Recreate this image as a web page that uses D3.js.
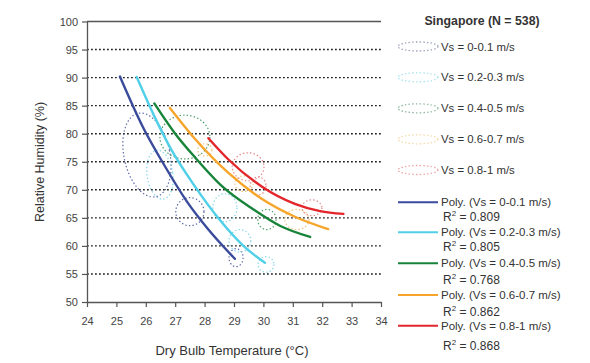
<!DOCTYPE html>
<html><head><meta charset="utf-8">
<script src="https://cdn.jsdelivr.net/npm/d3@7"></script>
<style>body{margin:0;background:#fff}svg{display:block;font-family:"Liberation Sans",Arial,sans-serif}</style>
</head><body><svg id="c" width="590" height="363"></svg>
<script>
// ---- data ----
const xTicks = [24,25,26,27,28,29,30,31,32,33,34];
const yTicks = [50,55,60,65,70,75,80,85,90,95,100];
const gridValues = [55,60,65,70,75,80,85,90,95];
const seriesNames = ["Vs = 0-0.1 m/s","Vs = 0.2-0.3 m/s","Vs = 0.4-0.5 m/s","Vs = 0.6-0.7 m/s","Vs = 0.8-1 m/s"];
const polyNames = ["Poly. (Vs = 0-0.1 m/s)","Poly. (Vs = 0.2-0.3 m/s)","Poly. (Vs = 0.4-0.5 m/s)","Poly. (Vs = 0.6-0.7 m/s)","Poly. (Vs = 0.8-1 m/s)"];
const r2Values = ["0.809","0.805","0.768","0.862","0.868"];
const lineColors = ["#3a4b9c","#4fd0e8","#17843a","#f7a52a","#e2262b"];
const ellipseColors = ["#5e6aa8","#86d6ea","#4a9a66","#f0c27a","#e78585"];
const legendEllipseColors = ["#9aa0b8","#a8e2ee","#8fb8a0","#f5d9a8","#eea3a3"];

// fitted curves (temperature, RH)
const blueT = [25.12,25.9,26.65,27.4,28.1,29.03];
const blueRH = [90.2,81.2,74.2,67.9,63.1,57.7];
const cyanT = [25.69,26.3,26.82,27.67,28.52,29.3,30.05];
const cyanRH = [90.1,83.0,77.6,70.6,64.6,60.1,57.0];
const greenT = [26.29,27.0,27.67,28.6,29.66,30.56,31.59];
const greenRH = [85.4,80.0,75.8,70.6,66.5,63.6,61.6];
const orangeT = [26.82,27.67,28.81,29.94,31.07,32.2];
const orangeRH = [84.6,79.1,73.0,68.4,65.2,63.0];
const redT = [28.13,28.81,29.94,31.07,31.93,32.72];
const redRH = [79.2,75.4,70.6,67.5,66.2,65.7];

// dotted data clouds: [series index, centre T, centre RH, half-width T, half-height RH, rotation deg]
const clouds = [
  [0,26.04,76.2,0.78,7.6,-12],
  [0,27.5,66.1,0.48,2.5,0],
  [0,29.07,57.9,0.24,1.6,0],
  [1,26.48,72.7,0.44,4.4,-8],
  [1,28.69,66.8,0.41,2.5,0],
  [1,29.2,60.9,0.37,2.0,0],
  [1,30.09,56.7,0.27,1.4,0],
  [2,27.33,79.4,0.85,3.9,0],
  [2,30.12,64.7,0.31,1.8,0],
  [3,31.14,64.7,0.41,1.8,0],
  [3,29.34,71.1,0.31,1.4,0],
  [3,28.01,77.1,0.24,1.1,0],
  [4,29.48,74.1,0.54,2.5,0],
  [4,31.65,66.8,0.34,1.4,0],
  [4,29.82,70.7,0.27,1.6,0]
];

const svg = d3.select("#c");
const x = d3.scaleLinear().domain([24,34]).range([87,381]);
const y = d3.scaleLinear().domain([50,100]).range([302,21.5]);
const ink = "#333";

// gridlines
svg.append("g").selectAll("line").data(gridValues).join("line")
  .attr("x1",x(24)).attr("x2",x(34)).attr("y1",d=>y(d)).attr("y2",d=>y(d))
  .attr("stroke","#222").attr("stroke-width",1.4).attr("stroke-dasharray","1.8,2.2");
// top border
svg.append("line").attr("x1",x(24)).attr("x2",x(34)).attr("y1",y(100)).attr("y2",y(100))
  .attr("stroke","#555").attr("stroke-width",1.3);

// axes
const gx = svg.append("g").attr("transform",`translate(0,${y(50)})`)
  .call(d3.axisBottom(x).tickValues(xTicks).tickSize(5).tickSizeOuter(0).tickPadding(10).tickFormat(d3.format("d")));
const gy = svg.append("g").attr("transform",`translate(${x(24)},0)`)
  .call(d3.axisLeft(y).tickValues(yTicks).tickSize(5).tickSizeOuter(0).tickPadding(4).tickFormat(d3.format("d")));
[gx,gy].forEach(g=>{
  g.select(".domain").attr("stroke","#555").attr("stroke-width",1.3);
  g.selectAll(".tick line").attr("stroke","#555").attr("stroke-width",1.2);
  g.selectAll(".tick text").attr("fill","#444").style("font-size","11px").style("font-family",'"Liberation Sans",Arial,sans-serif');
});

// axis titles
svg.append("text").attr("x",232).attr("y",355).attr("text-anchor","middle")
  .attr("fill",ink).style("font-size","13px").text("Dry Bulb Temperature (°C)");
svg.append("text").attr("transform","translate(44,162) rotate(-90)").attr("text-anchor","middle")
  .attr("fill",ink).style("font-size","12.5px").text("Relative Humidity (%)");

// dotted clouds
svg.append("g").selectAll("ellipse").data(clouds).join("ellipse")
  .attr("cx",d=>x(d[1])).attr("cy",d=>y(d[2]))
  .attr("rx",d=>x(d[1]+d[3])-x(d[1])).attr("ry",d=>y(d[2]-d[4])-y(d[2]))
  .attr("transform",d=>`rotate(${d[5]},${x(d[1])},${y(d[2])})`)
  .attr("fill","none").attr("stroke",d=>ellipseColors[d[0]]).attr("stroke-width",1.2)
  .attr("stroke-dasharray","1.4,2.2");

// fitted lines
const curves = [[blueT,blueRH],[cyanT,cyanRH],[greenT,greenRH],[orangeT,orangeRH],[redT,redRH]];
const line = d3.line().x(d=>x(d[0])).y(d=>y(d[1])).curve(d3.curveMonotoneX);
svg.append("g").selectAll("path").data(curves).join("path")
  .attr("d",c=>line(c[0].map((t,i)=>[t,c[1][i]])))
  .attr("fill","none").attr("stroke",(c,i)=>lineColors[i]).attr("stroke-width",2.4).attr("stroke-linecap","round");

// legend
const lg = svg.append("g");
lg.append("text").attr("x",482).attr("y",25).attr("text-anchor","middle").attr("fill",ink)
  .style("font-size","12.3px").style("font-weight","bold").text("Singapore (N = 538)");
const vsY = [46.5,77.3,108.3,139.3,170];
seriesNames.forEach((n,i)=>{
  lg.append("ellipse").attr("cx",418).attr("cy",vsY[i]).attr("rx",20).attr("ry",4.5)
    .attr("fill","none").attr("stroke",legendEllipseColors[i]).attr("stroke-width",1.3).attr("stroke-dasharray","1.4,2.2");
  lg.append("text").attr("x",441).attr("y",vsY[i]+4).attr("fill",ink).style("font-size","11.4px").text(n);
});
const polyY = [202.3,232.3,263.3,295,325.7];
const r2Y = [216.7,246.7,279,311,345.7];
polyNames.forEach((n,i)=>{
  lg.append("line").attr("x1",398).attr("x2",438).attr("y1",polyY[i]).attr("y2",polyY[i])
    .attr("stroke",lineColors[i]).attr("stroke-width",2);
  lg.append("text").attr("x",441).attr("y",polyY[i]+4).attr("fill",ink).style("font-size","11.5px").text(n);
  const t = lg.append("text").attr("x",443).attr("y",r2Y[i]+4.5).attr("fill",ink).style("font-size","12px");
  t.append("tspan").text("R");
  t.append("tspan").attr("dy",-5).style("font-size","8px").text("2");
  t.append("tspan").attr("dy",5).text(" = " + r2Values[i]);
});
</script></body></html>
